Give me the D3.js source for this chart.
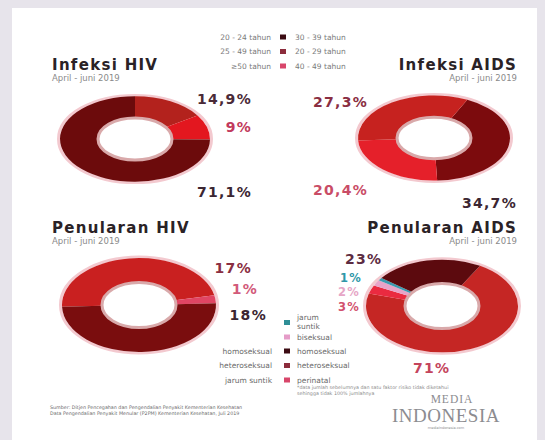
<!DOCTYPE html>
<html><head><meta charset="utf-8">
<script src="https://cdn.jsdelivr.net/npm/d3@7/dist/d3.min.js"></script>
<style>body{margin:0;background:#fff}svg{display:block}</style>
</head><body><svg id="c" width="545" height="440"></svg>
<script>
// ---- data ----
const ageLegendLeft = ["20 - 24 tahun", "25 - 49 tahun", "≥50 tahun"];
const ageLegendRight = ["30 - 39 tahun", "20 - 29 tahun", "40 - 49 tahun"];
const ageLegendColors = ["#3b0b12", "#8c2c3c", "#d8466a"];

const infeksiHivLabels = ["14,9%", "9%", "71,1%"];
const infeksiHivValues = [14.9, 9, 71.1];
const infeksiHivColors = ["#b3221d", "#e3171f", "#6c0b0c"];

const infeksiAidsLabels = ["34,7%", "20,4%", "27,3%"];
const infeksiAidsValues = [34.7, 20.4, 27.3];
const infeksiAidsColors = ["#7c0b0d", "#e5202a", "#c6221f"];

const penularanHivLabels = ["17%", "1%", "18%"];
const penularanHivValues = [17, 1, 18];
const penularanHivColors = ["#c92020", "#e04563", "#7a0d0e"];

const penularanAidsLabels = ["71%", "3%", "2%", "1%", "23%"];
const penularanAidsValues = [71, 3, 2, 1, 23];
const penularanAidsColors = ["#c52624", "#ea2a40", "#e8a3c8", "#3b9bb0", "#5c0a0e"];

const transLegendLeft = ["homoseksual", "heteroseksual", "jarum suntik"];
const transLegendRight = ["homoseksual", "heteroseksual", "perinatal"];
const transLegendColors = ["#3b0b12", "#8c2c3c", "#d8466a"];
const transLegendExtra = [["jarum", "suntik"], ["biseksual"]];
const transLegendExtraColors = ["#2f8e96", "#e59cc8"];

// ---- drawing ----
const svg = d3.select("#c");
svg.append("rect").attr("width", 545).attr("height", 440).attr("fill", "#e7e4eb");
svg.append("rect").attr("x", 12).attr("y", 8).attr("width", 525).attr("height", 432).attr("fill", "#ffffff");

const font = "'DejaVu Sans', sans-serif";

// top legend
const lg = svg.append("g").attr("font-family", font).attr("font-size", 7.5).attr("fill", "#7a7a7a");
ageLegendLeft.forEach((t, i) => {
  const y = 37 + i * 14.5;
  lg.append("text").attr("x", 271).attr("y", y + 2.5).attr("text-anchor", "end").text(t);
  lg.append("rect").attr("x", 280).attr("y", y - 2.5).attr("width", 6).attr("height", 5).attr("fill", ageLegendColors[i]);
  lg.append("text").attr("x", 295).attr("y", y + 2.5).text(ageLegendRight[i]);
});

function title(x, y, anchor, t) {
  svg.append("text").attr("x", x).attr("y", y).attr("text-anchor", anchor)
    .attr("font-family", font).attr("font-weight", "bold").attr("font-size", 15)
    .attr("letter-spacing", 1.3).attr("fill", "#2a2226").text(t);
  svg.append("text").attr("x", x).attr("y", y + 11).attr("text-anchor", anchor)
    .attr("font-family", font).attr("font-size", 8.5).attr("fill", "#8a8a8a").text("April - juni 2019");
}
title(52, 70, "start", "Infeksi HIV");
title(517, 70, "end", "Infeksi AIDS");
title(52, 233, "start", "Penularan HIV");
title(517, 233, "end", "Penularan AIDS");

function donut(cx, cy, R, r, ky, startDeg, values, colors) {
  const g = svg.append("g").attr("transform", `translate(${cx},${cy}) scale(1,${ky})`);
  g.append("circle").attr("r", R + 1.5).attr("fill", "none").attr("stroke", "#f3c9cf")
    .attr("stroke-width", 3).attr("vector-effect", "non-scaling-stroke");
  const pie = d3.pie().sort(null).value(d => d)
    .startAngle(startDeg * Math.PI / 180).endAngle(startDeg * Math.PI / 180 + 2 * Math.PI);
  const arc = d3.arc().innerRadius(r).outerRadius(R);
  g.selectAll("path").data(pie(values)).join("path")
    .attr("d", arc).attr("fill", (d, i) => colors[i]);
  g.append("circle").attr("r", r).attr("fill", "#fff").attr("stroke", "#d9a9aa")
    .attr("stroke-width", 3).attr("vector-effect", "non-scaling-stroke");
}
donut(135, 139, 75, 37, 0.57, 0, infeksiHivValues, infeksiHivColors);
donut(434, 138, 76, 37, 0.56, 26, infeksiAidsValues, infeksiAidsColors);
donut(139, 305, 77, 37, 0.61, -92, penularanHivValues, penularanHivColors);
donut(442, 306, 76, 37, 0.61, 30, penularanAidsValues, penularanAidsColors);

function pct(x, y, anchor, t, color, size) {
  svg.append("text").attr("x", x).attr("y", y).attr("text-anchor", anchor)
    .attr("font-family", font).attr("font-weight", "bold").attr("font-size", size || 14)
    .attr("letter-spacing", 1.3).attr("fill", color).text(t);
}
// Infeksi HIV labels
pct(252, 104, "end", infeksiHivLabels[0], "#4a2a37");
pct(252, 132, "end", infeksiHivLabels[1], "#c23a5c");
pct(252, 197, "end", infeksiHivLabels[2], "#3b2632");
// Infeksi AIDS labels
pct(313, 107, "start", infeksiAidsLabels[2], "#8a2e42");
pct(313, 195, "start", infeksiAidsLabels[1], "#c94c66");
pct(517, 208, "end", infeksiAidsLabels[0], "#3b2632");
// Penularan HIV labels
pct(252, 273, "end", penularanHivLabels[0], "#8a2e42");
pct(258, 294, "end", penularanHivLabels[1], "#d25a7a");
pct(267, 320, "end", penularanHivLabels[2], "#3b2632");
// Penularan AIDS labels
pct(345, 264, "start", penularanAidsLabels[4], "#5c2c42");
pct(362, 282, "end", penularanAidsLabels[3], "#2f97a8", 11.5);
pct(360, 296, "end", penularanAidsLabels[2], "#e6a6c6", 11.5);
pct(360, 311, "end", penularanAidsLabels[1], "#d2506e", 11.5);
pct(413, 373, "start", penularanAidsLabels[0], "#c4445c");

// transmission legend
const tl = svg.append("g").attr("font-family", font).attr("font-size", 7.5).attr("fill", "#6a6a6a");
tl.append("rect").attr("x", 284).attr("y", 320).attr("width", 6).attr("height", 5).attr("fill", transLegendExtraColors[0]);
tl.append("text").attr("x", 297).attr("y", 320).text(transLegendExtra[0][0]);
tl.append("text").attr("x", 297).attr("y", 328.5).text(transLegendExtra[0][1]);
tl.append("rect").attr("x", 284).attr("y", 334.5).attr("width", 6).attr("height", 5).attr("fill", transLegendExtraColors[1]);
tl.append("text").attr("x", 297).attr("y", 340).text(transLegendExtra[1][0]);
transLegendLeft.forEach((t, i) => {
  const y = 351 + i * 14.5;
  tl.append("text").attr("x", 272).attr("y", y + 2.5).attr("text-anchor", "end").text(t);
  tl.append("rect").attr("x", 284).attr("y", y - 2.5).attr("width", 6).attr("height", 5).attr("fill", transLegendColors[i]);
  tl.append("text").attr("x", 297).attr("y", y + 2.5).text(transLegendRight[i]);
});
const note = svg.append("g").attr("font-family", font).attr("font-size", 4.8).attr("fill", "#8a8a8a");
note.append("text").attr("x", 297).attr("y", 389).text("*data jumlah sebelumnya dan satu faktor risiko tidak diketahui");
note.append("text").attr("x", 297).attr("y", 395).text("sehingga tidak 100% jumlahnya");

// source
const src = svg.append("g").attr("font-family", font).attr("font-size", 4.8).attr("fill", "#6a6a6a");
src.append("text").attr("x", 50).attr("y", 409).text("Sumber: Ditjen Pencegahan dan Pengendalian Penyakit Kementerian Kesehatan");
src.append("text").attr("x", 50).attr("y", 415).text("Data Pengendalian Penyakit Menular (P2PM) Kementerian Kesehatan, Juli 2019");

// logo
const logo = svg.append("g").attr("font-family", "'Liberation Serif', serif").attr("fill", "#8c8c90");
logo.append("text").attr("x", 452).attr("y", 403).attr("text-anchor", "middle").attr("font-size", 11.5).attr("letter-spacing", 1).text("MEDIA");
logo.append("text").attr("x", 446).attr("y", 422).attr("text-anchor", "middle").attr("font-size", 19).attr("letter-spacing", 0.5).text("INDONESIA");
logo.append("text").attr("x", 446).attr("y", 429).attr("text-anchor", "middle").attr("font-size", 3.5).attr("font-family", font).text("mediaindonesia.com");
</script></body></html>
